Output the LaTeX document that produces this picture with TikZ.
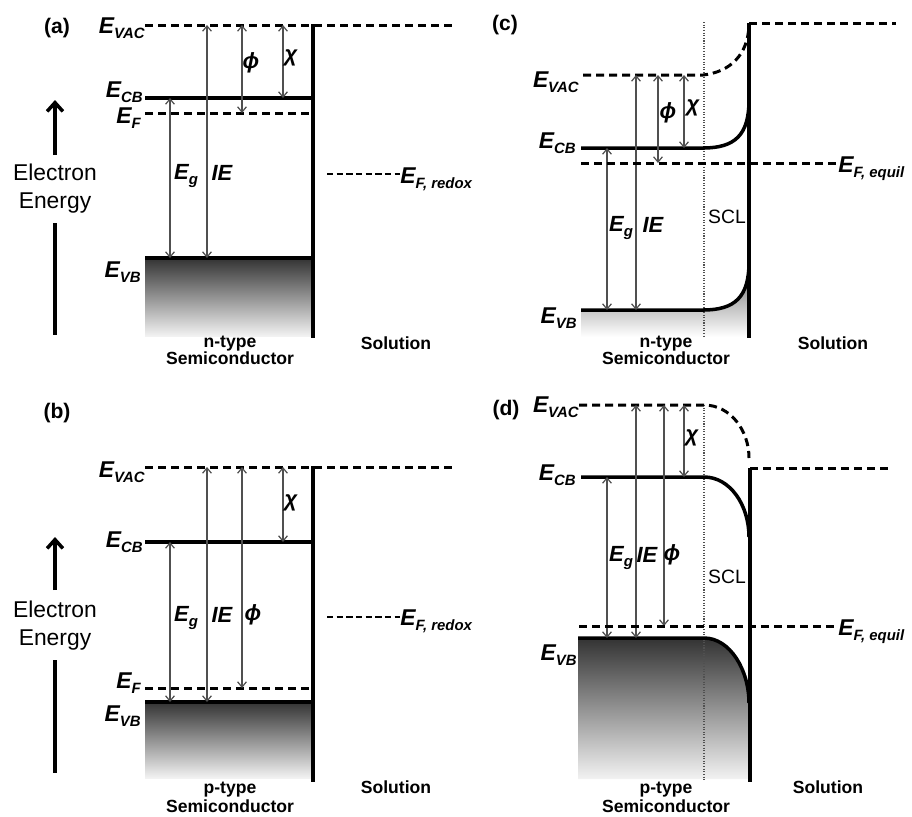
\documentclass[tikz,border=0pt]{standalone}
\usepackage{fontspec}
\setmainfont{Liberation Sans}
\usepackage{tikz}
\usetikzlibrary{arrows.meta,calc}
\definecolor{GapGray}{RGB}{80,80,80}
\newcommand{\En}[1]{E\raisebox{-0.45ex}{\fontsize{8.5}{8.5}\selectfont #1}}

\begin{document}
\begin{tikzpicture}[x=0.02cm,y=-0.02cm,
  band/.style={line width=2pt},
  vacdash/.style={line width=1.7pt,dash pattern=on 4.6pt off 2.8pt},
  refdash/.style={line width=1.5pt,dash pattern=on 3.6pt off 1.9pt},
  scl/.style={line width=0.7pt,GapGray,dash pattern=on 0.6pt off 0.9pt},
  gaparrow/.style={GapGray,line width=0.7pt,{Straight Barb[length=3pt,width=5pt]}-{Straight Barb[length=3pt,width=5pt]}},
  axisarrow/.style={line width=2pt,-{Straight Barb[length=5pt,width=9pt]}},
  lvl/.style={font=\fontsize{13}{13}\selectfont\bfseries\itshape,inner sep=0pt},
  gaplbl/.style={font=\fontsize{12.5}{12.5}\selectfont\bfseries\itshape,inner sep=0pt},
  tag/.style={font=\fontsize{12}{12}\selectfont\bfseries,inner sep=0pt},
  side/.style={font=\fontsize{10}{10}\selectfont\bfseries,inner sep=0pt,anchor=base},
  axislbl/.style={font=\fontsize{13}{16}\selectfont,align=center,inner sep=0pt}]
\useasboundingbox (0,0) rectangle (912,816);

% ---------- (a) n-type, flat bands ----------
\coordinate (a-vac) at (145,25);
\coordinate (a-cb) at (145,98);
\coordinate (a-f) at (145,113);
\coordinate (a-vb) at (145,258);
\coordinate (a-top) at (313,24);
\coordinate (a-bot) at (313,338);
\coordinate (a-base) at (313,336);
\coordinate (a-end) at (453,25);
\shade[top color=black!80,bottom color=black!5] (a-vb) rectangle (a-base);
\draw[vacdash] (a-vac) -- (a-end);
\draw[band] (a-cb) -- (a-cb -| a-top);
\draw[vacdash] (a-f) -- (a-f -| a-top);
\draw[band] (a-vb) -- (a-vb -| a-top);
\draw[band] (a-top) -- (a-bot);
\draw[gaparrow] (a-cb -| 170,0) -- (a-vb -| 170,0);
\draw[gaparrow] (a-vac -| 207,0) -- (a-vb -| 207,0);
\draw[gaparrow] (a-vac -| 242,0) -- (a-f -| 242,0);
\draw[gaparrow] (a-vac -| 283,0) -- (a-cb -| 283,0);
\node[tag] (a-tag) at (57,28) {(a)};
\node[lvl,anchor=base east] (a-vac-lbl) at (145,33) {\En{VAC}};
\node[lvl,anchor=base east] (a-cb-lbl) at (143,97) {\En{CB}};
\node[lvl,anchor=base east] (a-f-lbl) at (141,123) {\En{F}};
\node[lvl,anchor=base east] (a-vb-lbl) at (141,277) {\En{VB}};
\node[gaplbl] (a-eg) at (186,176) {\En{g}};
\node[gaplbl] (a-ie) at (222,173) {IE};
\node[gaplbl] (a-phi) at (251,63) {ϕ};
\node[gaplbl] (a-chi) at (291,58) {χ};
\coordinate (a-rx) at (327,174);
\node[lvl,anchor=base west] (a-redox) at (400,183) {\En{F, redox}};
\draw[refdash] (a-rx) -- (a-redox.west |- a-rx);
\node[axislbl] (a-energy) at (55,189) {Electron\\Energy};
\coordinate (a-up0) at (55,155);
\coordinate (a-up1) at (55,100);
\coordinate (a-dn0) at (55,223);
\coordinate (a-dn1) at (55,335);
\draw[axisarrow] (a-up0) -- (a-up1);
\draw[line width=2pt] (a-dn0) -- (a-dn1);
\node[side] (a-type) at (230,347) {n-type};
\node[side] (a-semi) at (230,364) {Semiconductor};
\node[side] (a-sol) at (396,349) {Solution};

% ---------- (b) p-type, flat bands ----------
\coordinate (b-vac) at (145,467);
\coordinate (b-cb) at (145,542);
\coordinate (b-f) at (145,688);
\coordinate (b-vb) at (145,702);
\coordinate (b-top) at (313,466);
\coordinate (b-bot) at (313,782);
\coordinate (b-base) at (313,778);
\coordinate (b-end) at (453,467);
\shade[top color=black!80,bottom color=black!5] (b-vb) rectangle (b-base);
\draw[vacdash] (b-vac) -- (b-end);
\draw[band] (b-cb) -- (b-cb -| b-top);
\draw[vacdash] (b-f) -- (b-f -| b-top);
\draw[band] (b-vb) -- (b-vb -| b-top);
\draw[band] (b-top) -- (b-bot);
\draw[gaparrow] (b-cb -| 170,0) -- (b-vb -| 170,0);
\draw[gaparrow] (b-vac -| 207,0) -- (b-vb -| 207,0);
\draw[gaparrow] (b-vac -| 242,0) -- (b-f -| 242,0);
\draw[gaparrow] (b-vac -| 283,0) -- (b-cb -| 283,0);
\node[tag] (b-tag) at (57,413) {(b)};
\node[lvl,anchor=base east] (b-vac-lbl) at (145,477) {\En{VAC}};
\node[lvl,anchor=base east] (b-cb-lbl) at (143,547) {\En{CB}};
\node[lvl,anchor=base east] (b-f-lbl) at (141,688) {\En{F}};
\node[lvl,anchor=base east] (b-vb-lbl) at (141,721) {\En{VB}};
\node[gaplbl] (b-eg) at (186,618) {\En{g}};
\node[gaplbl] (b-ie) at (222,615) {IE};
\node[gaplbl] (b-phi) at (253,615) {ϕ};
\node[gaplbl] (b-chi) at (291,503) {χ};
\coordinate (b-rx) at (327,617);
\node[lvl,anchor=base west] (b-redox) at (400,625) {\En{F, redox}};
\draw[refdash] (b-rx) -- (b-redox.west |- b-rx);
\node[axislbl] (b-energy) at (55,626) {Electron\\Energy};
\coordinate (b-up0) at (55,590);
\coordinate (b-up1) at (55,537);
\coordinate (b-dn0) at (55,660);
\coordinate (b-dn1) at (55,773);
\draw[axisarrow] (b-up0) -- (b-up1);
\draw[line width=2pt] (b-dn0) -- (b-dn1);
\node[side] (b-type) at (230,793) {p-type};
\node[side] (b-semi) at (230,812) {Semiconductor};
\node[side] (b-sol) at (396,793) {Solution};

% ---------- (c) n-type in equilibrium ----------
\coordinate (c-vac) at (583,75);
\coordinate (c-cb) at (581,148);
\coordinate (c-f) at (581,163);
\coordinate (c-vb) at (581,310);
\coordinate (c-top) at (749,23);
\coordinate (c-bot) at (749,338);
\coordinate (c-base) at (749,337);
\coordinate (c-end) at (896,23);
\shade[top color=black!60,bottom color=white]
  (c-vb) -- (703,310) .. controls (735,310) and (749,297) .. (749,262)
  -- (c-base) -- (c-vb |- c-base) -- cycle;
\draw[scl] (704,22) -- (704,337);
\draw[vacdash] (c-vac) -- (703,75) .. controls (730,72) and (748,55) .. (749,25);
\draw[vacdash] (c-top) -- (c-end);
\draw[band] (c-cb) -- (703,148) .. controls (735,148) and (749,135) .. (749,100);
\draw[band] (c-vb) -- (703,310) .. controls (735,310) and (749,297) .. (749,262);
\draw[band] (c-top) -- (c-bot);
\draw[gaparrow] (c-cb -| 607,0) -- (c-vb -| 607,0);
\draw[gaparrow] (c-vac -| 636,0) -- (c-vb -| 636,0);
\draw[gaparrow] (c-vac -| 658,0) -- (c-f -| 658,0);
\draw[gaparrow] (c-vac -| 684,0) -- (c-cb -| 684,0);
\node[tag] (c-tag) at (505,25) {(c)};
\node[lvl,anchor=base east] (c-vac-lbl) at (579,87) {\En{VAC}};
\node[lvl,anchor=base east] (c-cb-lbl) at (576,148) {\En{CB}};
\node[lvl,anchor=base east] (c-vb-lbl) at (577,323) {\En{VB}};
\node[gaplbl] (c-eg) at (621,228) {\En{g}};
\node[gaplbl] (c-ie) at (653,225) {IE};
\node[gaplbl] (c-phi) at (668,113) {ϕ};
\node[gaplbl] (c-chi) at (693,108) {χ};
\node[lvl,anchor=base west] (c-equil) at (838,172) {\En{F, equil}};
\draw[vacdash] (c-f) -- (c-equil.west |- c-f);
\node[font=\fontsize{11}{11}\selectfont,inner sep=0pt] (c-scl) at (727,217) {SCL};
\node[side] (c-type) at (666,347) {n-type};
\node[side] (c-semi) at (666,364) {Semiconductor};
\node[side] (c-sol) at (833,349) {Solution};

% ---------- (d) p-type in equilibrium ----------
\coordinate (d-vac) at (579,405);
\coordinate (d-cb) at (581,477);
\coordinate (d-f) at (579,626);
\coordinate (d-vb) at (578,638);
\coordinate (d-top) at (750,468);
\coordinate (d-bot) at (750,782);
\coordinate (d-base) at (749,779);
\coordinate (d-end) at (893,468);
\shade[top color=black!80,bottom color=black!5]
  (d-vb) -- (704,638) .. controls (730,638) and (749,670) .. (749,703)
  -- (d-base) -- (d-vb |- d-base) -- cycle;
\draw[scl] (704,405) -- (704,780);
\draw[vacdash] (d-vac) -- (704,405) .. controls (730,405) and (749,430) .. (749,458);
\draw[vacdash] (d-top) -- (d-end);
\draw[band] (d-cb) -- (704,477) .. controls (730,477) and (749,505) .. (749,537);
\draw[band] (d-vb) -- (704,638) .. controls (730,638) and (749,670) .. (749,703);
\draw[band] (d-top) -- (d-bot);
\draw[gaparrow] (d-cb -| 607,0) -- (d-vb -| 607,0);
\draw[gaparrow] (d-vac -| 636,0) -- (d-vb -| 636,0);
\draw[gaparrow] (d-vac -| 664,0) -- (d-f -| 664,0);
\draw[gaparrow] (d-vac -| 684,0) -- (d-cb -| 684,0);
\node[tag] (d-tag) at (506,410) {(d)};
\node[lvl,anchor=base east] (d-vac-lbl) at (579,412) {\En{VAC}};
\node[lvl,anchor=base east] (d-cb-lbl) at (576,480) {\En{CB}};
\node[lvl,anchor=base east] (d-vb-lbl) at (577,660) {\En{VB}};
\node[gaplbl] (d-eg) at (621,558) {\En{g}};
\node[gaplbl] (d-ie) at (647,555) {IE};
\node[gaplbl] (d-phi) at (672,555) {ϕ};
\node[gaplbl] (d-chi) at (692,438) {χ};
\node[lvl,anchor=base west] (d-equil) at (838,635) {\En{F, equil}};
\draw[vacdash] (d-f) -- (d-equil.west |- d-f);
\node[font=\fontsize{11}{11}\selectfont,inner sep=0pt] (d-scl) at (727,577) {SCL};
\node[side] (d-type) at (666,793) {p-type};
\node[side] (d-semi) at (666,812) {Semiconductor};
\node[side] (d-sol) at (828,793) {Solution};
\end{tikzpicture}
\end{document}
